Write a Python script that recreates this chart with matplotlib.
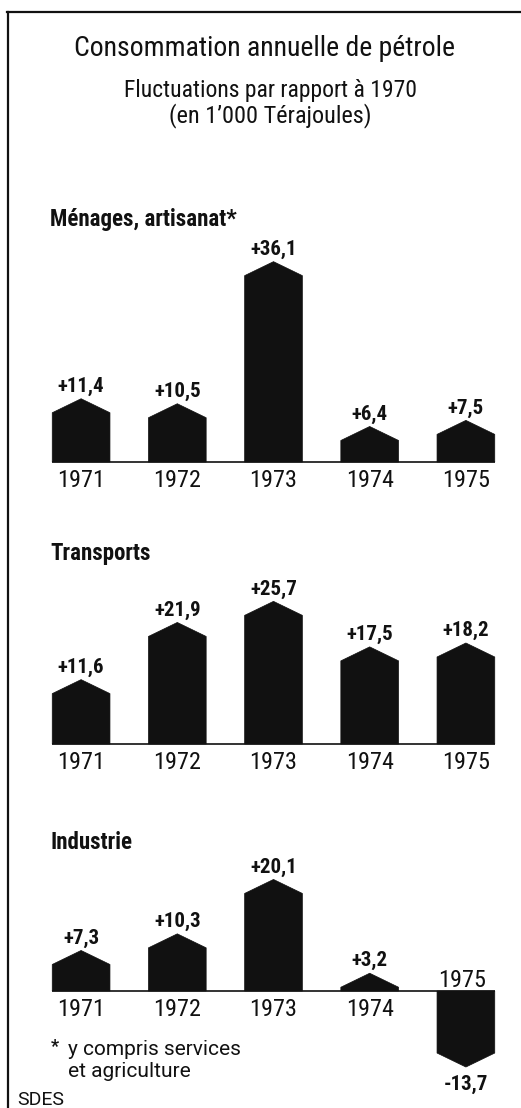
import matplotlib
matplotlib.use("Agg")
import matplotlib.pyplot as plt
from matplotlib.patches import Polygon
from matplotlib.lines import Line2D

# ---- data ----
years = ["1971", "1972", "1973", "1974", "1975"]
menages = [11.4, 10.5, 36.1, 6.4, 7.5]
transports = [11.6, 21.9, 25.7, 17.5, 18.2]
industrie = [7.3, 10.3, 20.1, 3.2, -13.7]
section_titles = ["Ménages, artisanat*", "Transports", "Industrie"]
title = "Consommation annuelle de pétrole"
subtitle = "Fluctuations par rapport à 1970\n(en 1’000 Térajoules)"
footnote = "y compris services\net agriculture"
source = "SDES"

# ---- layout ----
W, H = 521, 1108
fig = plt.figure(figsize=(W / 100, H / 100), dpi=100)
fig.patch.set_facecolor("white")

COND = "Roboto Condensed"
REG = "Roboto"


def fx(x):
    return x / W


def fy(y):
    return 1 - y / H


S = 5.55          # pixels per unit
R = 14 / S        # roof height in data units
BW = 0.60         # bar width (category units)
INK = "#111111"


def fmt(v):
    return f"{v:+.1f}".replace(".", ",")


panels = [
    (section_titles[0], menages, 462, 230, 500, 226),
    (section_titles[1], transports, 744, 580, 785, 560),
    (section_titles[2], industrie, 991, 860, 1090, 849),
]

for name, vals, y0, top, bot, title_base in panels:
    ax = fig.add_axes([fx(33), fy(bot), (514 - 33) / W, (bot - top) / H])
    ax.set_xlim(-0.5, 4.5)
    ax.set_ylim(-(bot - y0) / S, (y0 - top) / S)
    ax.axis("off")
    ax.plot([-BW / 2, len(vals) - 1 + BW / 2], [0, 0], color=INK, lw=1.2, zorder=1,
            solid_capstyle="butt")
    for i, v in enumerate(vals):
        r = min(R, abs(v))
        sgn = 1 if v >= 0 else -1
        shoulder = v - sgn * r
        pts = [(i - BW / 2, 0), (i - BW / 2, shoulder), (i, v),
               (i + BW / 2, shoulder), (i + BW / 2, 0)]
        ax.add_patch(Polygon(pts, closed=True, facecolor=INK, edgecolor=INK,
                             lw=0.5, zorder=2))
        if v >= 0:
            ax.annotate(fmt(v), (i, v), xytext=(0, 7), textcoords="offset pixels",
                        ha="center", va="baseline", fontsize=15, fontweight="bold",
                        family=COND, color=INK)
            ax.annotate(years[i], (i, 0), xytext=(0, -25), textcoords="offset pixels",
                        ha="center", va="baseline", fontsize=17.5, family=COND, color=INK)
        else:
            ax.annotate(fmt(v), (i, v), xytext=(0, -8), textcoords="offset pixels",
                        ha="center", va="top", fontsize=15, fontweight="bold",
                        family=COND, color=INK)
            ax.annotate(years[i], (i, 0), xytext=(-4, 4), textcoords="offset pixels",
                        ha="center", va="baseline", fontsize=17.5, family=COND, color=INK)
    fig.text(fx(50), fy(title_base), name, ha="left", va="baseline", fontsize=16.5,
             fontweight="bold", family=COND, color=INK)

# titles
fig.text(fx(264), fy(56), title, ha="center", va="baseline", fontsize=20,
         family=COND, color=INK)
fig.text(fx(270), fy(97), subtitle.split("\n")[0], ha="center", va="baseline",
         fontsize=17, family=COND, color=INK)
fig.text(fx(270), fy(122), subtitle.split("\n")[1], ha="center", va="baseline",
         fontsize=17.5, family=COND, color=INK)

# footnote and source
fig.text(fx(51), fy(1052), "*", ha="left", va="baseline", fontsize=13,
         fontweight="bold", family=REG, color=INK)
fl = footnote.split("\n")
fig.text(fx(68), fy(1055), fl[0], ha="left", va="baseline", fontsize=15,
         family=REG, color=INK)
fig.text(fx(68), fy(1077), fl[1], ha="left", va="baseline", fontsize=15,
         family=REG, color=INK)
fig.text(fx(17), fy(1105), source, ha="left", va="baseline", fontsize=14,
         family=REG, color=INK)

# frame (left and top rules)
fig.add_artist(Line2D([fx(8), fx(8)], [fy(12), 0], color=INK, lw=1.6,
                      transform=fig.transFigure))
fig.add_artist(Line2D([fx(7.3), 1], [fy(12), fy(12)], color=INK, lw=1.6,
                      transform=fig.transFigure))

fig.savefig("out.png", dpi=100, facecolor="white")
